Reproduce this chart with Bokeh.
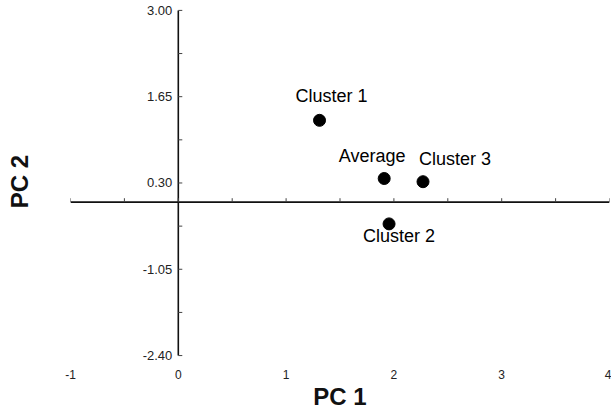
from bokeh.plotting import figure
from bokeh.models import FixedTicker, ColumnDataSource, LabelSet
from bokeh.core.properties import value
from bokeh.embed import file_html
from bokeh.resources import INLINE

# ---- data ----
names = ["Cluster 1", "Average", "Cluster 3", "Cluster 2"]
pc1 = [1.31, 1.91, 2.27, 1.955]
pc2 = [1.28, 0.37, 0.32, -0.34]

x_ticks = [-1, 0, 1, 2, 3, 4]
x_tick_labels = ["-1", "0", "1", "2", "3", "4"]
x_minor = [-1, -0.5, 0, 0.5, 1, 1.5, 2, 2.5, 3, 3.5, 4]
y_ticks = [3.00, 1.65, 0.30, -1.05, -2.40]
y_minor = [3.00, 2.325, 1.65, 0.975, 0.30, -0.375, -1.05, -1.725, -2.40]
y_tick_labels = ["3.00", "1.65", "0.30", "-1.05", "-2.40"]

# label placement (screen offsets, styling only)
lab_dx = [12, -12, 32, 10]
lab_dy = [14, 13, 13, -2]
lab_baseline = ["bottom", "bottom", "bottom", "top"]

FONT = "Liberation Sans"

# frame padded so the end tick labels are not clipped (64.63 px per y unit)
PXY = 64.63
y_lo = y_ticks[-1] - 7 / PXY
y_hi = y_ticks[0] + 10 / PXY

p = figure(width=611, height=412, x_range=(x_ticks[0], x_ticks[-1]), y_range=(y_lo, y_hi),
           output_backend="svg", toolbar_location=None,
           min_border_left=70, min_border_right=2, min_border_top=0, min_border_bottom=46)
p.outline_line_color = None
p.grid.visible = False
p.background_fill_color = "white"
p.border_fill_color = "white"

# bottom axis: tick labels + title only
xa = p.xaxis[0]
xa.ticker = FixedTicker(ticks=x_ticks)
xa.major_label_overrides = {t: s for t, s in zip(x_ticks, x_tick_labels)}
xa.axis_line_color = None
xa.major_tick_line_color = None
xa.minor_tick_line_color = None
xa.major_tick_out = 0
xa.major_tick_in = 0
xa.major_label_standoff = 7
xa.major_label_text_font = FONT
xa.major_label_text_font_size = "12px"
xa.major_label_text_color = "#222222"
xa.axis_label = "PC 1"
xa.axis_label_text_font = FONT
xa.axis_label_text_font_style = "bold"
xa.axis_label_text_font_size = "24px"
xa.axis_label_standoff = 1
xa.axis_label_text_color = "#111111"

# left axis: title only
ya = p.yaxis[0]
ya.ticker = FixedTicker(ticks=[])
ya.axis_line_color = None
ya.major_tick_line_color = None
ya.minor_tick_line_color = None
ya.major_label_text_font_size = "0px"
ya.axis_label = "PC 2"
ya.axis_label_text_font = FONT
ya.axis_label_text_font_style = "bold"
ya.axis_label_text_font_size = "24px"
ya.axis_label_standoff = 38
ya.axis_label_text_color = "#111111"

# crossing axis lines
p.segment(x0=[x_ticks[0], 0], y0=[0, y_ticks[-1]], x1=[x_ticks[-1], 0], y1=[0, y_ticks[0]],
          line_color="#111111", line_width=1.6)

# tick marks
TX = 4 / PXY
TY = 0.037
p.segment(x0=x_minor, y0=[0] * len(x_minor), x1=x_minor, y1=[TX] * len(x_minor),
          line_color="#444444", line_width=1)
p.segment(x0=[0] * len(y_minor), y0=y_minor, x1=[TY] * len(y_minor), y1=y_minor,
          line_color="#444444", line_width=1)

# y tick labels next to the vertical axis
ysrc = ColumnDataSource(dict(x=[0] * len(y_ticks), y=y_ticks, t=y_tick_labels))
p.add_layout(LabelSet(x="x", y="y", text="t", source=ysrc, x_offset=-6,
                      text_align="right", text_baseline="middle", text_font=value(FONT),
                      text_font_size="13px", text_color="#222222"))

# points
src = ColumnDataSource(dict(x=pc1, y=pc2, name=names))
p.scatter("x", "y", source=src, size=12, color="black")
for i in range(len(names)):
    p.text(x=[pc1[i]], y=[pc2[i]], text=[names[i]], x_offset=lab_dx[i], y_offset=-lab_dy[i],
           text_align="center", text_baseline=lab_baseline[i], text_font=value(FONT),
           text_font_size="18px", text_color="black")

open("out.html", "w").write(file_html(p, INLINE))
